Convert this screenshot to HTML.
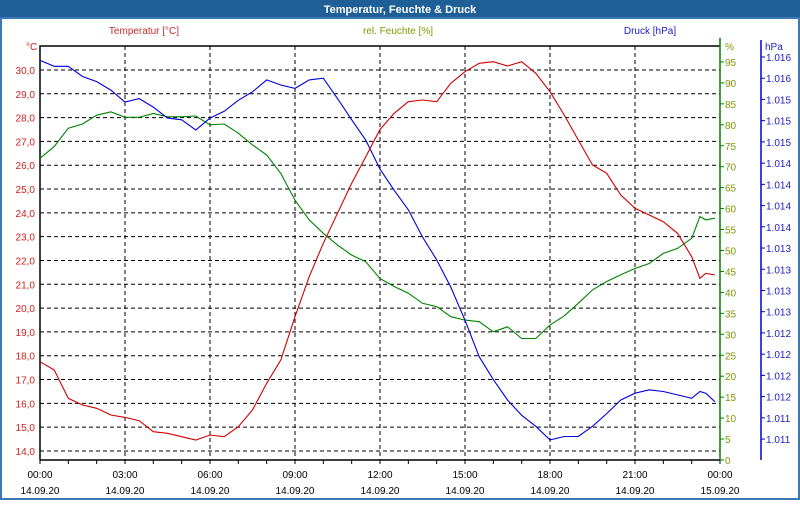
<!DOCTYPE html>
<html><head><meta charset="utf-8"><style>
body{margin:0;width:800px;height:500px;overflow:hidden;background:#fff;font-family:"Liberation Sans",sans-serif}
svg text{font-family:"Liberation Sans",sans-serif}
</style></head><body>
<svg id="c" width="800" height="500" xmlns="http://www.w3.org/2000/svg">
<rect x="0" y="0" width="800" height="500" fill="#fff"/>
<rect x="0" y="0" width="800" height="18" fill="#1e5f98"/>
<rect x="1" y="18" width="798" height="481" fill="none" stroke="#3a78b8" stroke-width="2"/>
<text x="400" y="13" text-anchor="middle" fill="#fff" font-size="11" font-weight="bold">Temperatur, Feuchte &amp; Druck</text>
<text x="144" y="34" text-anchor="middle" fill="#c03030" font-size="10">Temperatur [°C]</text>
<text x="398" y="34" text-anchor="middle" fill="#7a9a00" font-size="10">rel. Feuchte [%]</text>
<text x="650" y="34" text-anchor="middle" fill="#2020c0" font-size="10">Druck [hPa]</text>
<text x="26" y="50" fill="#d02020" font-size="10">°C</text>
<text x="725" y="50" fill="#7a9a00" font-size="10">%</text>
<text x="765" y="50" fill="#2020c0" font-size="10">hPa</text>
<g id="g"></g>
</svg>
<script>
const tempTicks=[14,15,16,17,18,19,20,21,22,23,24,25,26,27,28,29,30];
const humTicks=[0,5,10,15,20,25,30,35,40,45,50,55,60,65,70,75,80,85,90,95];
const presTickLabels=["1.016","1.016","1.015","1.015","1.015","1.014","1.014","1.014","1.014","1.013","1.013","1.013","1.013","1.012","1.012","1.012","1.012","1.011","1.011"];
const timeLabels=["00:00","03:00","06:00","09:00","12:00","15:00","18:00","21:00","00:00"];
const dateLabels=["14.09.20","14.09.20","14.09.20","14.09.20","14.09.20","14.09.20","14.09.20","14.09.20","15.09.20"];
const hours=[0,0.5,1,1.5,2,2.5,3,3.5,4,4.5,5,5.5,6,6.5,7,7.5,8,8.5,9,9.5,10,10.5,11,11.5,12,12.5,13,13.5,14,14.5,15,15.5,16,16.5,17,17.5,18,18.5,19,19.5,20,20.5,21,21.5,22,22.5,23,23.29,23.5,23.82];
const temperature=[17.75,17.4,16.21,15.93,15.79,15.51,15.41,15.27,14.81,14.74,14.6,14.46,14.67,14.6,15.02,15.72,16.84,17.82,19.64,21.32,22.72,23.98,25.24,26.36,27.5,28.18,28.67,28.74,28.67,29.44,29.93,30.28,30.35,30.17,30.35,29.86,29.09,28.11,27.06,26.01,25.66,24.75,24.19,23.91,23.63,23.14,22.16,21.25,21.46,21.39];
const humidity=[72.0,74.8,79.2,80.2,82.3,83.1,81.8,81.8,82.7,81.9,81.9,82.1,80.0,80.2,78.0,75.2,72.8,68.4,62.0,57.3,54.1,51.3,48.9,47.3,43.3,41.4,39.8,37.4,36.6,34.2,33.4,33.0,30.6,31.8,29.0,29.0,32.2,34.4,37.4,40.6,42.6,44.2,45.7,46.9,49.3,50.5,52.9,58.1,57.3,57.7];
const pressure=[1015.96,1015.89,1015.89,1015.77,1015.71,1015.61,1015.47,1015.51,1015.41,1015.28,1015.26,1015.14,1015.28,1015.36,1015.49,1015.59,1015.73,1015.67,1015.63,1015.73,1015.75,1015.51,1015.26,1015.02,1014.68,1014.43,1014.2,1013.88,1013.61,1013.29,1012.9,1012.47,1012.2,1011.96,1011.78,1011.65,1011.49,1011.53,1011.53,1011.65,1011.8,1011.96,1012.04,1012.08,1012.06,1012.02,1011.98,1012.06,1012.04,1011.94];

const X0=40,X1=720,Y0=46,YB=460;
const xS=h=>X0+h*(X1-X0)/24;
const yT=t=>70+(30-t)*23.81;
const yH=v=>460-v*4.19;
const yP=p=>57+(1016-p)*84.9;
const ns="http://www.w3.org/2000/svg";
const g=document.getElementById('g');
function mk(tag,attrs,txt){const e=document.createElementNS(ns,tag);for(const k in attrs)e.setAttribute(k,attrs[k]);if(txt!==undefined)e.textContent=txt;g.appendChild(e);return e;}

// horizontal grid + temp labels
tempTicks.forEach(t=>{
  const l=mk('line',{x1:X0,x2:X1,y1:yT(t),y2:yT(t),stroke:'#000','stroke-dasharray':'4,3','stroke-width':1});
  
  
  const tx=mk('text',{x:35,y:yT(t)+4,'text-anchor':'end',fill:'#d02020','font-size':10},t.toFixed(1).replace('.',','));
  
  
});
// vertical grid + time labels
timeLabels.forEach((lab,i)=>{
  const x=xS(i*3);
  if(i>0&&i<8){
    const l=mk('line',{x1:x,x2:x,y1:Y0,y2:YB,stroke:'#000','stroke-dasharray':'4,3','stroke-width':1});
    
    
  }
  const t1=mk('text',{x:x,y:478,'text-anchor':'middle',fill:'#000','font-size':10},lab);
  
  
  const t2=mk('text',{x:x,y:494,'text-anchor':'middle',fill:'#000','font-size':10},dateLabels[i]);
  
  
});
for(let h=0;h<=24;h++){
  const tk=mk('line',{x1:xS(h),x2:xS(h),y1:YB,y2:YB+4,stroke:'#000'});
  
  
}
// frame
const fr=mk('path',{d:`M${X0},${YB}V${Y0}H${X1}M${X0},${YB}H${X1}`,stroke:'#000',fill:'none','stroke-width':1.5});


// humidity axis
const ha=mk('line',{x1:X1,x2:X1,y1:38,y2:YB,stroke:'#008000','stroke-width':1.5});


humTicks.forEach(v=>{
  const tk=mk('line',{x1:X1,x2:X1+4,y1:yH(v),y2:yH(v),stroke:'#008000'});
  
  
  const tx=mk('text',{x:725,y:yH(v)+4,fill:'#7a9a00','font-size':10},String(v));
  
  
});
// pressure axis
const pa=mk('line',{x1:761,x2:761,y1:40,y2:YB,stroke:'#0000d0','stroke-width':1.5});


presTickLabels.forEach((lab,i)=>{
  const y=yP(1016-0.25*i);
  const tk=mk('line',{x1:761,x2:765,y1:y,y2:y,stroke:'#0000d0'});
  
  
  const tx=mk('text',{x:766,y:y+4,fill:'#2020c0','font-size':10},lab);
  
  
});
// series
function line(vals,yf,color,name){
  const d=vals.map((v,i)=>(i?'L':'M')+xS(hours[i]).toFixed(1)+','+yf(v).toFixed(1)).join('');
  const p=mk('path',{d:d,fill:'none',stroke:color,'stroke-width':1.1});
  
  
}
line(humidity,yH,'#008000','humidity-line');
line(pressure,yP,'#0000e0','pressure-line');
line(temperature,yT,'#d00000','temperature-line');
</script>
</body></html>
